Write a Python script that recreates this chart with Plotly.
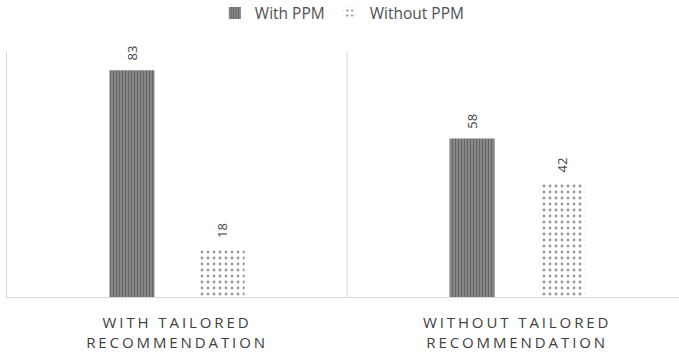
import plotly.graph_objects as go

categories = ["WITH TAILORED<br>RECOMMENDATION", "WITHOUT TAILORED<br>RECOMMENDATION"]
with_ppm = [83, 58]
without_ppm = [18, 42]
series_names = ["With PPM", "Without PPM"]

label_font = dict(family="Open Sans", size=13, color="#404040")
pad = "\u00a0\u00a0"

fig = go.Figure()
fig.add_trace(go.Bar(
    name=series_names[0], x=categories, y=with_ppm,
    marker=dict(color="#8a8a8a", line=dict(width=0),
                pattern=dict(shape="|", fgcolor="#2e2e2e", bgcolor="#9c9c9c",
                             size=3, solidity=0.6)),
    texttemplate=pad + "%{y}", textposition="outside", textangle=-90,
    textfont=label_font, cliponaxis=False,
))
fig.add_trace(go.Bar(
    name=series_names[1], x=categories, y=without_ppm,
    marker=dict(color="white", line=dict(width=0),
                pattern=dict(shape=".", fgcolor="#303030", bgcolor="white",
                             size=6, solidity=0.18)),
    texttemplate=pad + "%{y}", textposition="outside", textangle=-90,
    textfont=label_font, cliponaxis=False,
))

# category divider
fig.add_shape(type="line", xref="x", yref="y", x0=0.5, x1=0.5, y0=0, y1=90,
              line=dict(color="#d9d9d9", width=1))

fig.update_layout(
    width=679, height=354,
    margin=dict(l=7, r=0, t=51, b=57),
    paper_bgcolor="white", plot_bgcolor="white",
    barmode="group", bargap=0.47, bargroupgap=0.5,
    font=dict(family="Open Sans", color="#595959"),
    showlegend=True,
    legend=dict(orientation="h", x=0.499, xanchor="center", y=0.962, yref="container",
                yanchor="middle", font=dict(size=15.5, color="#505050"),
                itemwidth=30, traceorder="normal"),
    xaxis=dict(range=[-0.5, 1.476], showline=True, linecolor="#d9d9d9", linewidth=1,
               ticks="", showgrid=False, zeroline=False, ticklabelstandoff=12,
               tickfont=dict(family="Open Sans", size=15, color="#404040")),
    yaxis=dict(range=[0, 90], showline=True, linecolor="#d9d9d9", linewidth=1,
               showticklabels=False, ticks="", showgrid=False, zeroline=False),
)

# widen the tracking of the category labels
fig.write_html("out.html", post_script=(
    "var s=document.createElement('style');"
    "s.textContent='.xtick text{letter-spacing:2.9px;}';"
    "document.head.appendChild(s);"
))
